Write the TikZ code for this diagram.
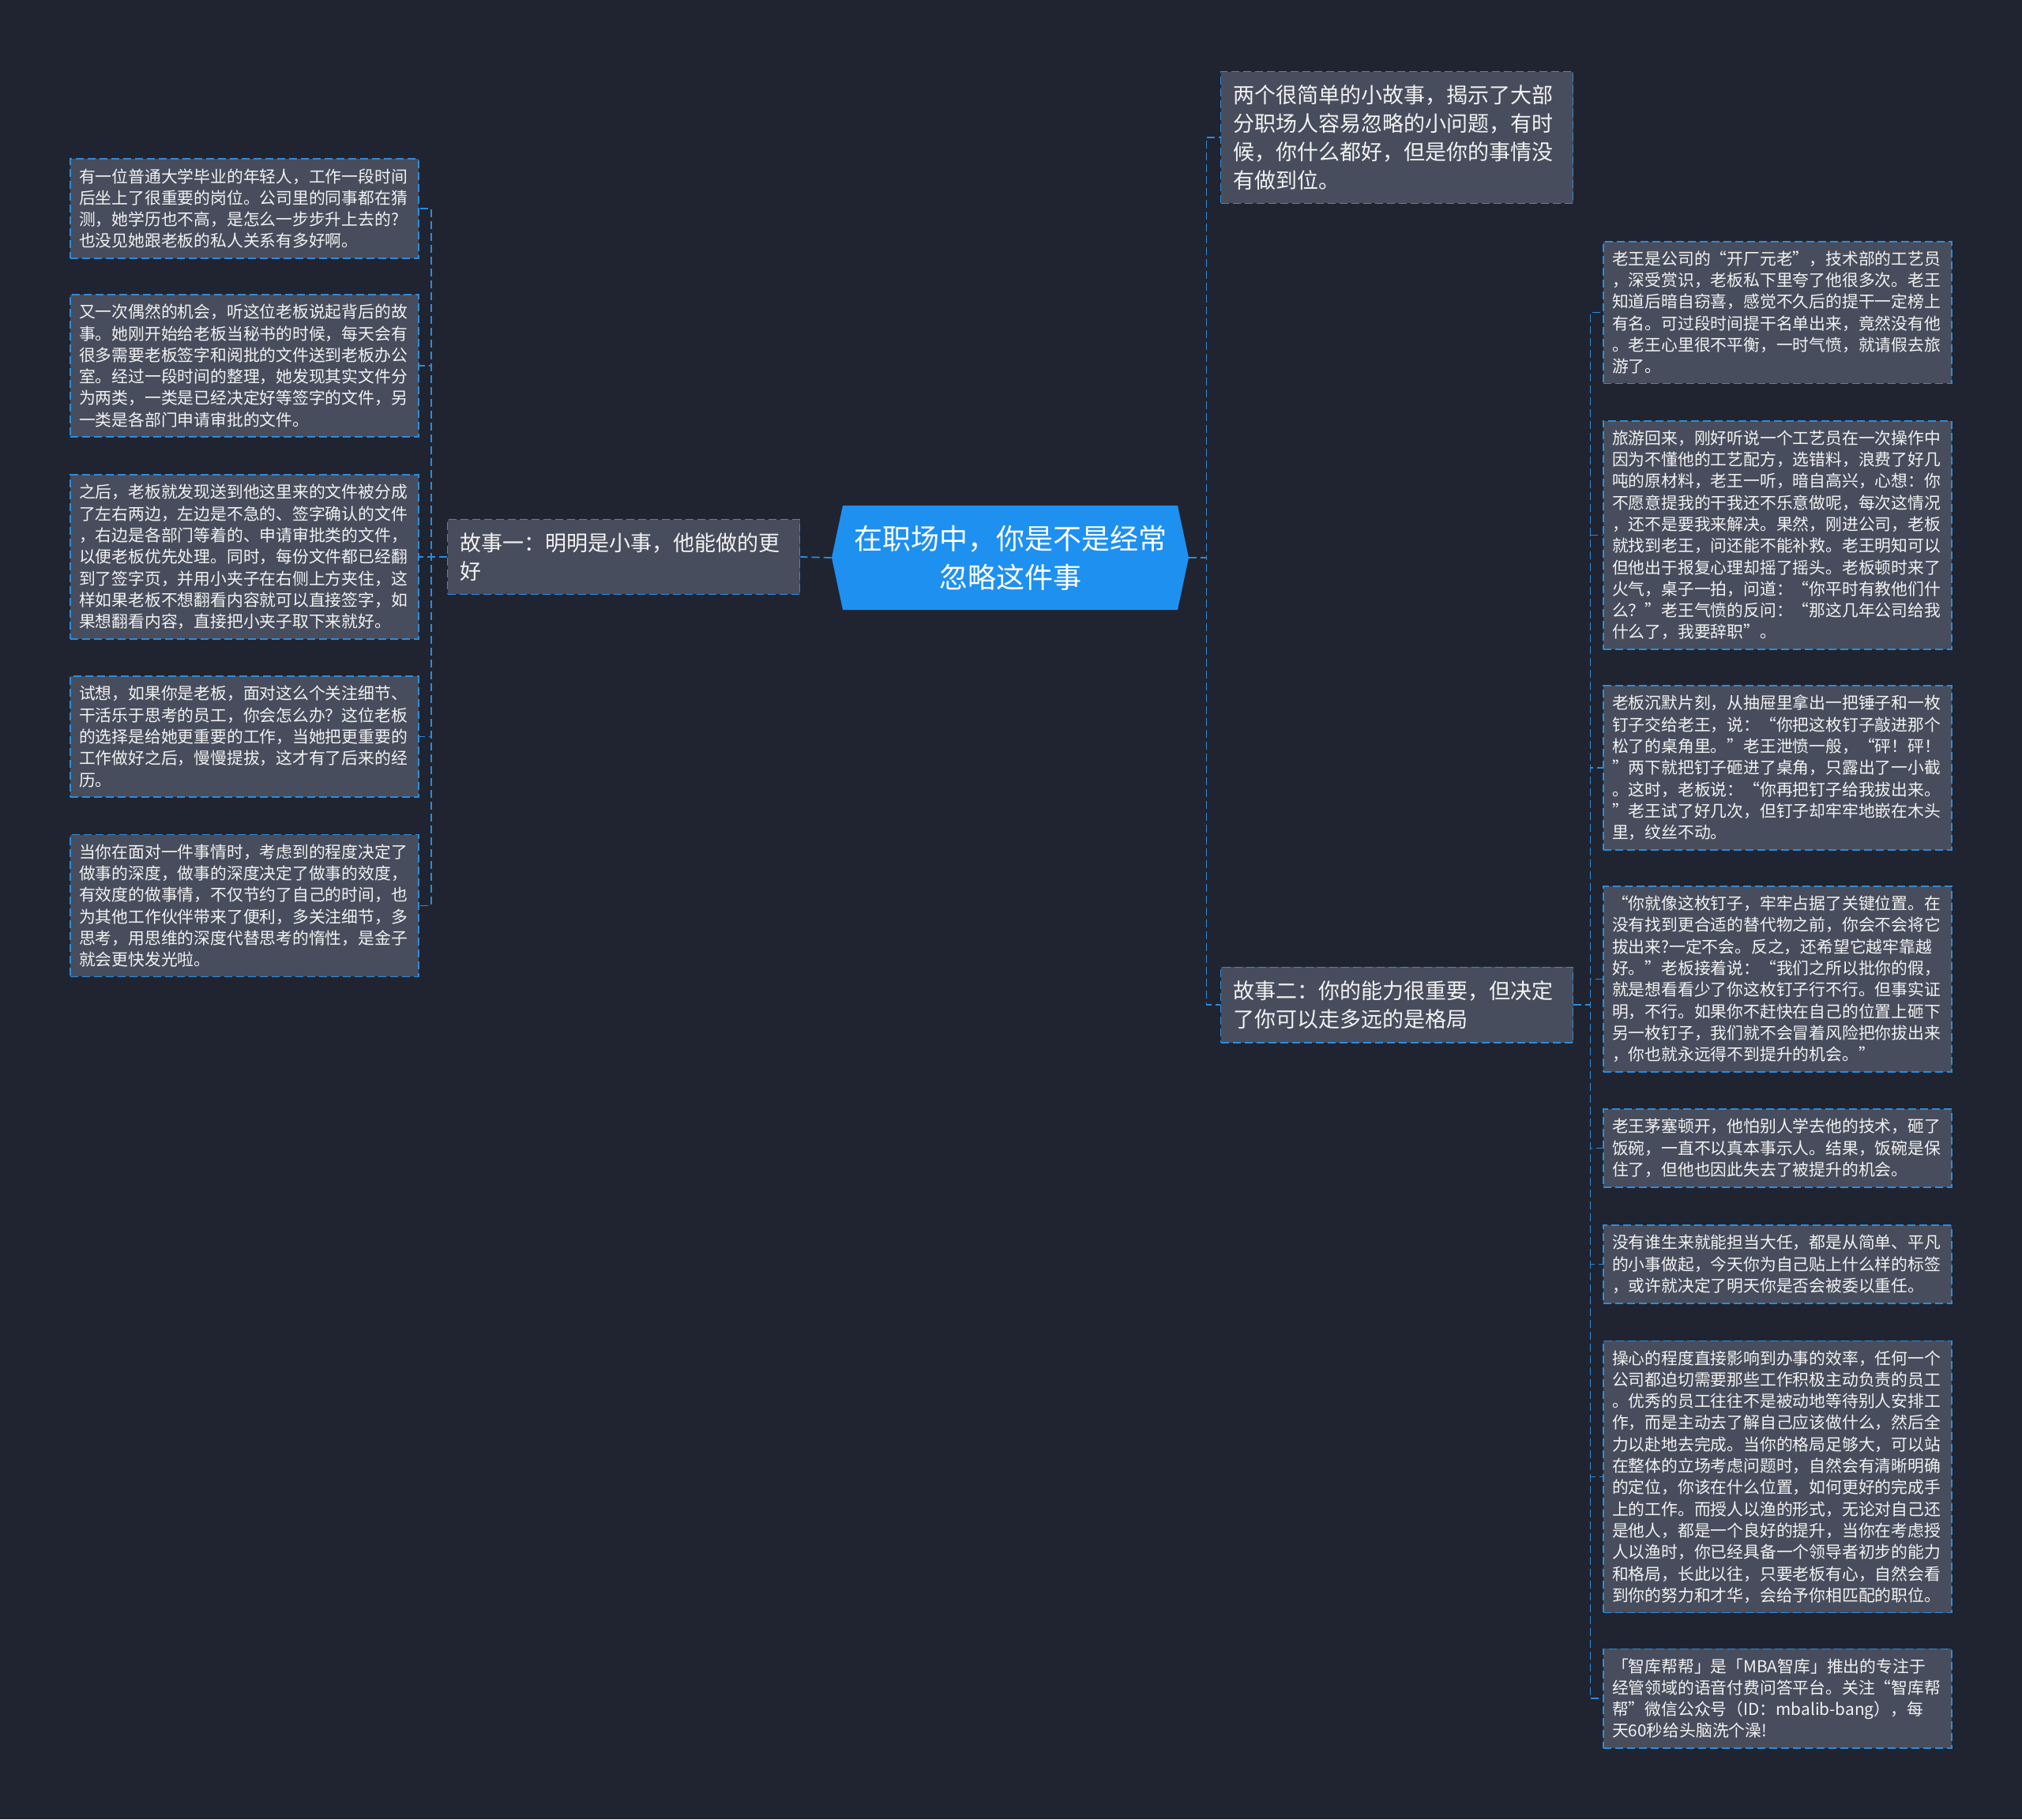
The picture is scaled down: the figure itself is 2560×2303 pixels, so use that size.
\documentclass[tikz,border=0pt]{standalone}
\usepackage{fontspec}
\newfontfamily\cjk{Noto Sans CJK SC}
\usepackage{tikz}
\usetikzlibrary{shapes.symbols}
\definecolor{bgdark}{HTML}{202430}
\definecolor{leaffill}{HTML}{474D5C}
\definecolor{linkblue}{HTML}{2A8CDC}
\definecolor{rootblue}{HTML}{1E90F0}
\definecolor{textlight}{HTML}{F2F2F2}
\tikzset{
  root/.style={signal, signal to=east and west, signal pointer angle=156, fill=rootblue, text=white, align=center, minimum width=226pt, minimum height=66pt, inner sep=0pt, font=\cjk\fontsize{18pt}{24.5pt}\selectfont},
  topic/.style={draw=linkblue, dash pattern=on 5pt off 2.5pt, line width=0.9pt, fill=leaffill, text=textlight, align=left, text width=207pt, inner xsep=8pt, inner ysep=8.5pt, font=\cjk\fontsize{13.5pt}{18pt}\selectfont},
  leaf/.style={draw=linkblue, dash pattern=on 5pt off 2.5pt, line width=0.9pt, fill=leaffill, text=textlight, align=left, text width=209.5pt, inner xsep=5.5pt, inner ysep=6pt, font=\cjk\fontsize{10.4pt}{13.65pt}\selectfont},
  link/.style={draw=linkblue, dash pattern=on 5pt off 2.5pt, line width=0.9pt}
}
\begin{document}
\begin{tikzpicture}[x=0.5pt, y=-0.5pt, font=\cjk]
  \fill[bgdark] (0,0) rectangle (2560,2303);

  \node[root] (main) at (1279,706) {在职场中，你是不是经常\\忽略这件事};

  \node[topic] (story1) at (789.5,705) {故事一：明明是小事，他能做的更\\好};
  \node[topic] (intro) at (1768.5,174) {两个很简单的小故事，揭示了大部\\分职场人容易忽略的小问题，有时\\候，你什么都好，但是你的事情没\\有做到位。};
  \node[topic] (story2) at (1768.5,1272) {故事二：你的能力很重要，但决定\\了你可以走多远的是格局};

  % story one
  \node[leaf] (l1) at (309.5,264) {有一位普通大学毕业的年轻人，工作一段时间\\后坐上了很重要的岗位。公司里的同事都在猜\\测，她学历也不高，是怎么一步步升上去的?\\也没见她跟老板的私人关系有多好啊。};
  \node[leaf] (l2) at (309.5,463) {又一次偶然的机会，听这位老板说起背后的故\\事。她刚开始给老板当秘书的时候，每天会有\\很多需要老板签字和阅批的文件送到老板办公\\室。经过一段时间的整理，她发现其实文件分\\为两类，一类是已经决定好等签字的文件，另\\一类是各部门申请审批的文件。};
  \node[leaf] (l3) at (309.5,705) {之后，老板就发现送到他这里来的文件被分成\\了左右两边，左边是不急的、签字确认的文件\\，右边是各部门等着的、申请审批类的文件，\\以便老板优先处理。同时，每份文件都已经翻\\到了签字页，并用小夹子在右侧上方夹住，这\\样如果老板不想翻看内容就可以直接签字，如\\果想翻看内容，直接把小夹子取下来就好。};
  \node[leaf] (l4) at (309.5,932.5) {试想，如果你是老板，面对这么个关注细节、\\干活乐于思考的员工，你会怎么办？这位老板\\的选择是给她更重要的工作，当她把更重要的\\工作做好之后，慢慢提拔，这才有了后来的经\\历。};
  \node[leaf] (l5) at (309.5,1146.5) {当你在面对一件事情时，考虑到的程度决定了\\做事的深度，做事的深度决定了做事的效度，\\有效度的做事情，不仅节约了自己的时间，也\\为其他工作伙伴带来了便利，多关注细节，多\\思考，用思维的深度代替思考的惰性，是金子\\就会更快发光啦。};

  % story two
  \node[leaf] (r1) at (2250.5,395.5) {老王是公司的“开厂元老”，技术部的工艺员\\，深受赏识，老板私下里夸了他很多次。老王\\知道后暗自窃喜，感觉不久后的提干一定榜上\\有名。可过段时间提干名单出来，竟然没有他\\。老王心里很不平衡，一时气愤，就请假去旅\\游了。};
  \node[leaf] (r2) at (2250.5,677.5) {旅游回来，刚好听说一个工艺员在一次操作中\\因为不懂他的工艺配方，选错料，浪费了好几\\吨的原材料，老王一听，暗自高兴，心想：你\\不愿意提我的干我还不乐意做呢，每次这情况\\，还不是要我来解决。果然，刚进公司，老板\\就找到老王，问还能不能补救。老王明知可以\\但他出于报复心理却摇了摇头。老板顿时来了\\火气，桌子一拍，问道：“你平时有教他们什\\么？”老王气愤的反问：“那这几年公司给我\\什么了，我要辞职”。};
  \node[leaf] (r3) at (2250.5,972) {老板沉默片刻，从抽屉里拿出一把锤子和一枚\\钉子交给老王，说：“你把这枚钉子敲进那个\\松了的桌角里。”老王泄愤一般，“砰！砰！\\”两下就把钉子砸进了桌角，只露出了一小截\\。这时，老板说：“你再把钉子给我拔出来。\\”老王试了好几次，但钉子却牢牢地嵌在木头\\里，纹丝不动。};
  \node[leaf] (r4) at (2250.5,1239.5) {“你就像这枚钉子，牢牢占据了关键位置。在\\没有找到更合适的替代物之前，你会不会将它\\拔出来?一定不会。反之，还希望它越牢靠越\\好。”老板接着说：“我们之所以批你的假，\\就是想看看少了你这枚钉子行不行。但事实证\\明，不行。如果你不赶快在自己的位置上砸下\\另一枚钉子，我们就不会冒着风险把你拔出来\\，你也就永远得不到提升的机会。”};
  \node[leaf] (r5) at (2250.5,1453.5) {老王茅塞顿开，他怕别人学去他的技术，砸了\\饭碗，一直不以真本事示人。结果，饭碗是保\\住了，但他也因此失去了被提升的机会。};
  \node[leaf] (r6) at (2250.5,1600.5) {没有谁生来就能担当大任，都是从简单、平凡\\的小事做起，今天你为自己贴上什么样的标签\\，或许就决定了明天你是否会被委以重任。};
  \node[leaf] (r7) at (2250.5,1869.5) {操心的程度直接影响到办事的效率，任何一个\\公司都迫切需要那些工作积极主动负责的员工\\。优秀的员工往往不是被动地等待别人安排工\\作，而是主动去了解自己应该做什么，然后全\\力以赴地去完成。当你的格局足够大，可以站\\在整体的立场考虑问题时，自然会有清晰明确\\的定位，你该在什么位置，如何更好的完成手\\上的工作。而授人以渔的形式，无论对自己还\\是他人，都是一个良好的提升，当你在考虑授\\人以渔时，你已经具备一个领导者初步的能力\\和格局，长此以往，只要老板有心，自然会看\\到你的努力和才华，会给予你相匹配的职位。};
  \node[leaf] (r8) at (2250.5,2150) {「智库帮帮」是「MBA智库」推出的专注于\\经管领域的语音付费问答平台。关注“智库帮\\帮”微信公众号（ID：mbalib-bang），每\\天60秒给头脑洗个澡!};

  \draw[link] (main.west) -- (story1.east);
  \draw[link] (main.east) -- ++(22,0) |- (intro.west);
  \draw[link] (main.east) -- ++(22,0) |- (story2.west);
  \foreach \n in {l1,l2,l3,l4,l5}
    \draw[link] (story1.west) -- ++(-20,0) |- (\n.east);
  \foreach \n in {r1,r2,r3,r4,r5,r6,r7,r8}
    \draw[link] (story2.east) -- ++(21,0) |- (\n.west);
\end{tikzpicture}
\end{document}
